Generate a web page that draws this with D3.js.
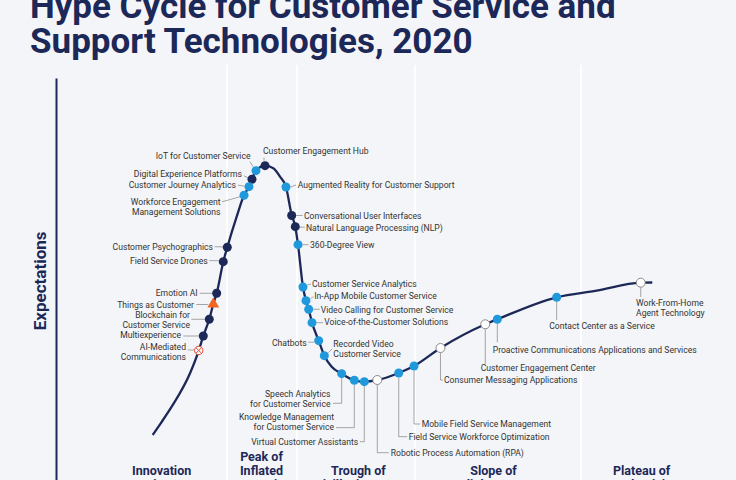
<!DOCTYPE html>
<html>
<head>
<meta charset="utf-8">
<script src="https://cdn.jsdelivr.net/npm/d3@7"></script>
<style>
  html, body { margin: 0; padding: 0; background: #f4f5f8; }
  svg { display: block; font-family: Roboto, "Open Sans", sans-serif; }
</style>
</head>
<body>
<svg id="chart" width="736" height="480"></svg>
<script>
// hype curve (time 0-100, expectations 0-100)
const curveX = [14.22, 15.40, 17.01, 19.71, 20.99, 21.66, 22.54, 23.13, 23.63, 24.60, 25.19, 26.57, 27.65, 28.38, 28.82, 29.41, 30.74, 31.96, 32.94, 33.82, 34.66, 35.19, 35.59, 36.32, 36.76, 37.16, 37.65, 38.63, 39.46, 40.54, 42.01, 43.87, 45.34, 47.25, 50.40, 52.65, 56.54, 63.13, 64.90, 73.63, 79.51, 85.99, 87.69];
const curveY = [8.75, 11.68, 15.83, 24.18, 29.83, 33.5, 37.68, 41.5, 44.18, 52.08, 55.68, 63.33, 68.68, 70.83, 72.68, 74.83, 76.08, 75.43, 73.33, 70.75, 63.75, 60.83, 56.33, 45.75, 42.33, 40.18, 36.83, 32.33, 28.58, 25.83, 24.08, 22.43, 22.08, 22.5, 24.25, 26.0, 30.5, 36.43, 37.68, 43.18, 44.83, 46.83, 46.88];

// technologies on the curve
const techNames = [
  "Customer Engagement Hub", "IoT for Customer Service", "Digital Experience Platforms",
  "Customer Journey Analytics", "Workforce Engagement|Management Solutions", "Customer Psychographics",
  "Field Service Drones", "Emotion AI", "Things as Customer", "Blockchain for|Customer Service",
  "Multiexperience", "AI-Mediated|Communications",
  "Augmented Reality for Customer Support", "Conversational User Interfaces",
  "Natural Language Processing (NLP)", "360-Degree View", "Customer Service Analytics",
  "In-App Mobile Customer Service", "Video Calling for Customer Service",
  "Voice-of-the-Customer Solutions", "Chatbots", "Recorded Video|Customer Service",
  "Speech Analytics|for Customer Service", "Knowledge Management|for Customer Service",
  "Virtual Customer Assistants", "Robotic Process Automation (RPA)",
  "Field Service Workforce Optimization", "Mobile Field Service Management",
  "Consumer Messaging Applications", "Customer Engagement Center",
  "Proactive Communications Applications and Services", "Contact Center as a Service",
  "Work-From-Home|Agent Technology"
];
const techX = [30.74, 29.41, 28.82, 28.38, 27.65, 25.19, 24.60, 23.63, 23.13, 22.54, 21.66, 20.99,
  33.82, 34.66, 35.19, 35.59, 36.32, 36.76, 37.16, 37.65, 38.63, 39.46,
  42.01, 43.87, 45.34, 47.25, 50.40, 52.65, 56.54, 63.13, 64.90, 73.63, 85.99];
const techY = [76.08, 74.83, 72.68, 70.83, 68.68, 55.68, 52.08, 44.18, 41.5, 37.68, 33.5, 29.88,
  70.75, 63.63, 60.83, 56.33, 45.75, 42.33, 40.18, 36.83, 32.33, 28.58,
  24.08, 22.43, 22.08, 22.5, 24.25, 26.0, 30.5, 36.43, 37.68, 43.18, 46.83];
// years to mainstream adoption
const techYears = ["5-10", "2-5", "5-10", "2-5", "2-5", "5-10", "5-10", "5-10", ">10", "5-10", "5-10", "obsolete",
  "2-5", "5-10", "5-10", "2-5", "2-5", "2-5", "2-5", "2-5", "2-5", "2-5",
  "2-5", "2-5", "2-5", "<2", "2-5", "2-5", "<2", "<2", "2-5", "2-5", "<2"];

const phaseNames = ["Innovation|Trigger", "Peak of|Inflated|Expectations", "Trough of|Disillusionment",
  "Slope of|Enlightenment", "Plateau of|Productivity"];
const phaseBounds = [25.15, 35.44, 52.79, 77.21];

// label layout (px offsets from the marker): anchor, text dx, first baseline dy, leader points
const labelLayout = [
  ["start", -2, -12, [[-1, -5], [-1, -8]]],
  ["end", -5.5, -12, [[-3, -4], [-6, -9]]],
  ["end", -10, -2.3, [[-4, -1.5], [-8, -3.5]]],
  ["end", -13, 1.3, [[-4.5, -0.5], [-11, -1.5]]],
  ["end", -23.5, 9.7, [[-4, 1.5], [-22, 6.5]]],
  ["end", -14.3, 2.4, [[-4.5, -0.5], [-12.5, -0.5]]],
  ["end", -15.6, 2, [[-4.5, -1], [-14, -1]]],
  ["end", -19, 3, [[-4.5, 0], [-17, 0]]],
  ["end", -19.3, 3.7, [[-5, 0.5], [-17, 0.5]]],
  ["end", -19.3, -1, [[-4.5, 0], [-18, 0]]],
  ["end", -22.3, 2.3, [[-4.5, 0], [-20, 0]]],
  ["end", -12.7, -0.5, [[-4.5, -0.5], [-11, -0.5]]],
  ["start", 11.7, 0.7, [[4.5, 0], [10, -2]]],
  ["start", 12.3, 3.2, [[4.5, 0], [11, 0]]],
  ["start", 10.7, 4, [[4.5, 0.5], [9.5, 0.5]]],
  ["start", 12, 3, [[4.5, 0], [10.5, 0]]],
  ["start", 9, 0, [[4.5, -2], [8, -3]]],
  ["start", 8.3, -1.4, [[4.5, -2], [7.5, -4]]],
  ["start", 12, 3.4, [[4.5, 0], [11, 0]]],
  ["start", 12.3, 2.6, [[4.5, 0], [11, 0]]],
  ["end", -12, 5, [[-4.5, 1.5], [-10.5, 1.5]]],
  ["start", 9, -9, [[4, -3], [8, -7]]],
  ["end", -11.2, 23.6, [[0, 4.5], [0, 29.6], [-8.7, 29.6]]],
  ["end", -20.3, 40, [[0, 4.5], [0, 47.4], [-18.3, 47.4]]],
  ["end", -6, 63, [[0, 4.5], [0, 60], [-4.5, 60]]],
  ["start", 13.4, 75.7, [[0, 4.5], [0, 72.7], [11.5, 72.7]]],
  ["start", 10, 66.7, [[0, 4.5], [0, 63.7], [8.5, 63.7]]],
  ["start", 7.7, 61, [[0, 4.5], [0, 58], [6, 58]]],
  ["start", 3.5, 35, [[0, 4.5], [0, 32], [2.5, 32]]],
  ["start", -4.6, 46.7, [[0, 4.5], [0, 39.7]]],
  ["start", -4.6, 34, [[0, 4.5], [0, 23]]],
  ["start", -7.4, 32, [[0, 4.5], [0, 22.7]]],
  ["start", -4.7, 23.6, [[0, 4.5], [0, 14.3]]]
];
const phaseLabelX = [15.54, 30.22, 44.47, 64.34, 86.12];

const navy = "#1c2858";
const lightBlue = "#1f98dc";

const svg = d3.select("#chart");
const W = 736, H = 480;

const x = d3.scaleLinear().domain([0, 100]).range([56, 736]);
const y = d3.scaleLinear().domain([0, 100]).range([470, 70]);

svg.append("rect").attr("width", W).attr("height", H).attr("fill", "#f4f5f8");

// title
const title = svg.append("text")
  .attr("x", 30)
  .attr("fill", navy)
  .attr("font-size", 35)
  .attr("font-weight", 700);
title.append("tspan").attr("x", 30).attr("y", 18).text("Hype Cycle for Customer Service and");
title.append("tspan").attr("x", 30).attr("y", 53).text("Support Technologies, 2020");

// phase separators
svg.append("g").selectAll("line")
  .data(phaseBounds)
  .join("line")
  .attr("x1", d => x(d)).attr("x2", d => x(d))
  .attr("y1", 65).attr("y2", H)
  .attr("stroke", "#ffffff")
  .attr("stroke-width", 1.6);

// expectations axis with arrow
svg.append("defs").append("marker")
  .attr("id", "arrow")
  .attr("viewBox", "0 0 10 10")
  .attr("refX", 5).attr("refY", 10)
  .attr("markerWidth", 3).attr("markerHeight", 4.5)
  .attr("orient", "auto-start-reverse")
  .append("path")
  .attr("d", "M0,10 L5,0 L10,10 Z")
  .attr("fill", navy);

const axisScale = y.copy().domain([-3, 98]).range([y(-3), y(98)]);
const yAxis = svg.append("g")
  .attr("transform", `translate(${x(0)},0)`)
  .call(d3.axisLeft(axisScale).ticks(0).tickSizeOuter(0));
yAxis.select(".domain")
  .attr("stroke", navy)
  .attr("stroke-width", 2)
  .attr("marker-start", "url(#arrow)");

svg.append("text")
  .attr("transform", `translate(46, ${y(47.3)}) rotate(-90)`)
  .attr("text-anchor", "middle")
  .attr("fill", navy)
  .attr("font-size", 17)
  .attr("font-weight", 700)
  .text("Expectations");

// the curve
const curvePts = curveX.map((d, i) => [d, curveY[i]]);
svg.append("path")
  .datum(curvePts)
  .attr("fill", "none")
  .attr("stroke", navy)
  .attr("stroke-width", 2.3)
  .attr("d", d3.line().x(d => x(d[0])).y(d => y(d[1])).curve(d3.curveMonotoneX));

// leaders and labels
const techs = techNames.map((n, i) => ({
  name: n, tx: techX[i], ty: techY[i], years: techYears[i], lay: labelLayout[i]
}));

const lab = svg.append("g");
techs.forEach(t => {
  const cx = x(t.tx), cy = y(t.ty);
  const [anchor, dx, dy, leader] = t.lay;
  lab.append("path")
    .attr("d", d3.line()(leader.map(p => [cx + p[0], cy + p[1]])))
    .attr("fill", "none")
    .attr("stroke", "#8f8f8f")
    .attr("stroke-width", 0.8);
  const txt = lab.append("text")
    .attr("text-anchor", anchor)
    .attr("font-size", 8.6)
    .attr("fill", "#333333");
  t.name.split("|").forEach((line, k) => {
    txt.append("tspan")
      .attr("x", cx + dx)
      .attr("y", cy + dy + k * 10.2)
      .text(line);
  });
});

// markers
const mk = svg.append("g");
techs.forEach(t => {
  const cx = x(t.tx), cy = y(t.ty);
  if (t.years === ">10") {
    mk.append("path")
      .attr("transform", `translate(${cx},${cy})`)
      .attr("d", d3.symbol(d3.symbolTriangle, 60)())
      .attr("fill", "#f26522");
  } else if (t.years === "obsolete") {
    mk.append("circle").attr("cx", cx).attr("cy", cy).attr("r", 4.2)
      .attr("fill", "#ffffff").attr("stroke", "#e8452c").attr("stroke-width", 1);
    mk.append("path")
      .attr("d", `M${cx - 2.8},${cy - 2.8}L${cx + 2.8},${cy + 2.8}M${cx - 2.8},${cy + 2.8}L${cx + 2.8},${cy - 2.8}`)
      .attr("stroke", "#e8452c").attr("stroke-width", 1);
  } else {
    mk.append("circle").attr("cx", cx).attr("cy", cy).attr("r", 4.5)
      .attr("fill", t.years === "<2" ? "#ffffff" : t.years === "2-5" ? lightBlue : navy)
      .attr("stroke", t.years === "<2" ? "#8a8a8a" : "none")
      .attr("stroke-width", 1);
  }
});

// phase names along the bottom
const ph = svg.append("g");
phaseNames.forEach((p, i) => {
  const lines = p.split("|");
  const txt = ph.append("text")
    .attr("text-anchor", "middle")
    .attr("fill", navy)
    .attr("font-size", 12.5)
    .attr("font-weight", 700);
  lines.forEach((line, k) => {
    txt.append("tspan")
      .attr("x", x(phaseLabelX[i]))
      .attr("y", 489 - (lines.length - 1 - k) * 14)
      .text(line);
  });
});
</script>
</body>
</html>
